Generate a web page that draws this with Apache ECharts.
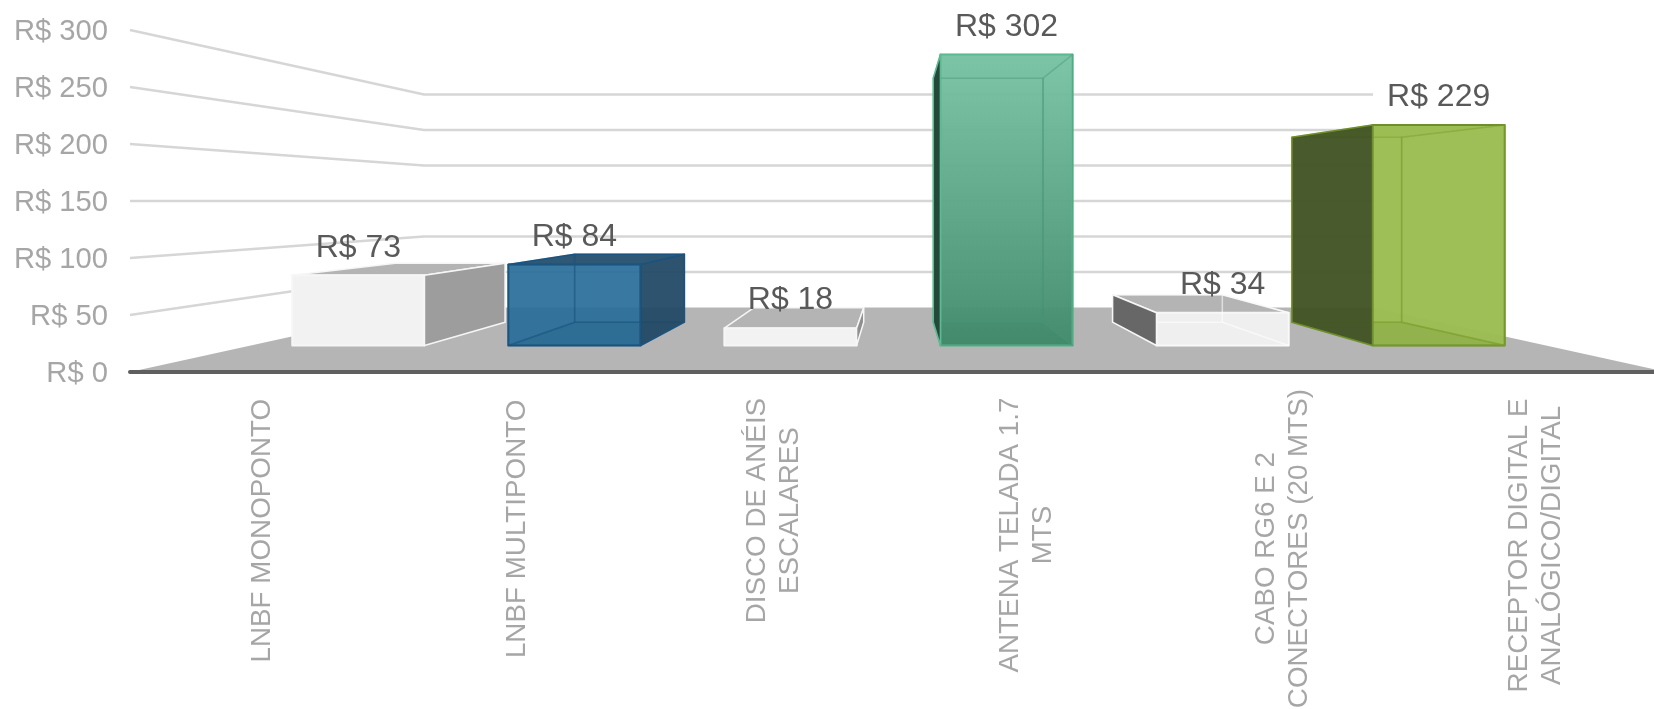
<!DOCTYPE html>
<html>
<head>
<meta charset="utf-8">
<style>html,body{margin:0;padding:0;background:#fff}#c{width:1654px;height:709px}</style>
<script src="https://cdn.jsdelivr.net/npm/echarts@6/dist/echarts.min.js"></script>
</head>
<body>
<div id="c"></div>
<script>
var categories = ['LNBF MONOPONTO','LNBF MULTIPONTO','DISCO DE ANÉIS\nESCALARES','ANTENA TELADA 1.7\nMTS','CABO RG6 E 2\nCONECTORES (20 MTS)','RECEPTOR DIGITAL E\nANALÓGICO/DIGITAL'];
var values = [73,84,18,302,34,229];
var wallTicks = [50,100,150,200,250,300];
var valueMin = 0, valueMax = 300, valueStep = 50;
var currency = 'R$ ';

// presentation
var FONT = '"Liberation Sans", Arial, sans-serif';
var horizonValue = 150;         // value that sits on the eye level of the perspective
var frontDepth = {x:0.8434, y:0.845}, backDepth = {x:0.700, y:0.7087}, wallDepth = {x:0.6175, y:0.623};
var barFill = 0.612;
var labelCentre = [148.7,146.9,128.6,153,166.6,163.4];  // label centre distance from the anchor
var labelShift = [4,3,3,0,0,-3];                        // sideways nudge of each category label
var labelLine = 33;
var barStyles = [
  {front:'#f2f2f2', side:'#9d9d9d', top:'#b4b4b4', line:'#f6f6f6', inner:'rgba(0,0,0,0)', floor:'rgba(0,0,0,0)'},
  {front:'rgba(40,108,152,0.92)', side:'rgba(32,72,102,0.94)', top:'rgba(34,78,108,0.94)', line:'#1c5480', inner:'rgba(28,84,128,0.4)', floor:'rgba(20,70,110,0.12)'},
  {front:'#f2f2f2', side:'#8f8f8f', top:'#b4b4b4', line:'#f6f6f6', inner:'rgba(0,0,0,0)', floor:'rgba(0,0,0,0)'},
  {front:{type:'linear',x:0,y:0,x2:0,y2:1,colorStops:[{offset:0,color:'rgba(122,196,165,0.97)'},{offset:1,color:'rgba(66,138,108,0.97)'}]}, side:'#25483a', top:'rgba(122,196,165,0.6)', line:'#5db992', inner:'rgba(70,150,115,0.4)', floor:'rgba(50,120,90,0.12)'},
  {front:'rgba(242,242,242,0.95)', side:'#676767', top:'#b4b4b4', line:'#f6f6f6', inner:'rgba(255,255,255,0.35)', floor:'rgba(0,0,0,0)'},
  {front:'rgba(155,188,82,0.97)', side:'rgba(66,84,36,0.96)', top:'rgba(158,193,84,0.7)', line:'#6f8f2c', inner:'rgba(125,160,45,0.5)', floor:'rgba(105,140,40,0.2)'}
];

function project(p, vp, d){ return [vp[0]+(p[0]-vp[0])*d.x, vp[1]+(p[1]-vp[1])*d.y]; }
function vanishing(params, api){
  var cs = params.coordSys;
  return [cs.x+cs.width/2, api.coord([0,horizonValue])[1]];
}
function poly(points, fill, stroke, width){
  return {type:'polygon', shape:{points:points}, style:{fill:fill||'none', stroke:stroke||'none', lineWidth:width||0, lineJoin:'round'}};
}

function renderFloor(params, api){
  var cs = params.coordSys, vp = vanishing(params, api);
  var y0 = api.coord([0,api.value(1)])[1];
  var a=[cs.x,y0], b=[cs.x+cs.width,y0];
  return poly([a,b,project(b,vp,wallDepth),project(a,vp,wallDepth)],'#b5b5b5');
}
function renderWall(params, api){
  var cs = params.coordSys, vp = vanishing(params, api);
  var y = api.coord([0,api.value(1)])[1];
  var a=[cs.x,y], b=[cs.x+cs.width,y];
  var pts=[a,project(a,vp,wallDepth),project(b,vp,wallDepth)];
  return {type:'polyline', shape:{points:pts}, style:{fill:'none', stroke:'#d6d6d6', lineWidth:2.5}};
}
function renderBar(params, api){
  var i = api.value(0), v = api.value(1), st = barStyles[i];
  var vp = vanishing(params, api);
  var band = api.size([1,0])[0];
  var cx = api.coord([i,0])[0], hw = band*barFill/2;
  var yTop = api.coord([i,v])[1], yBot = api.coord([i,valueMin])[1];
  function P(xx,yy,d){ return project([xx,yy],vp,d); }
  var l=cx-hw, r=cx+hw, f=frontDepth, k=backDepth;
  var fl=P(l,yBot,f), fr=P(r,yBot,f), ftl=P(l,yTop,f), ftr=P(r,yTop,f);
  var bl=P(l,yBot,k), br=P(r,yBot,k), btl=P(l,yTop,k), btr=P(r,yTop,k);
  var inner = st.inner;
  var rightVisible = ftr[0] < vp[0];
  var visible = rightVisible ? [fr,br,btr,ftr] : [fl,bl,btl,ftl];
  var hidden = rightVisible ? [fl,bl,btl,ftl] : [fr,br,btr,ftr];
  var top = ftl[1] > vp[1];
  var kids = [
    poly([ftl,ftr,btr,btl], st.top, top?st.line:inner, 1.5),
    poly([fl,fr,ftr,ftl], st.front, st.line, 2),
    poly([fl,fr,br,bl], st.floor, inner, 1.5),
    poly([bl,br,btr,btl], null, inner, 1.5),
    poly(hidden, null, inner, 1.5),
    poly(visible, st.side, st.line, 1.5),
    {type:'text', style:{x:(ftl[0]+ftr[0])/2, y:ftl[1]-27.5, text:currency+v, fill:'#595959', font:'32px '+FONT, align:'center', verticalAlign:'middle'}}
  ];
  return {type:'group', children:kids};
}

var chart = echarts.init(document.getElementById('c'), null, {renderer:'canvas'});
chart.setOption({
  animation:false,
  backgroundColor:'#ffffff',
  tooltip:{show:false},
  grid:{left:130, top:30, width:1537, height:342, containLabel:false, outerBoundsMode:'none'},
  xAxis:{
    type:'category',
    z:5,
    data:categories.map(function(c,i){
      var h = labelLine*c.split('\n').length;
      return {value:c, textStyle:{align:'center', verticalAlign:'top', padding:[labelShift[i]-h/2,2*labelCentre[i],0,0]}};
    }),
    axisTick:{show:false},
    axisLine:{show:true, lineStyle:{color:'#5f5f5f', width:4}},
    axisLabel:{interval:0, rotate:90, margin:10, align:'center', verticalAlign:'top', color:'#a6a6a6', fontSize:27.8, lineHeight:labelLine, fontFamily:FONT, hideOverlap:false},
    splitLine:{show:false}
  },
  yAxis:{
    type:'value', min:valueMin, max:valueMax, interval:valueStep,
    axisLine:{show:false}, axisTick:{show:false}, splitLine:{show:false},
    axisLabel:{margin:22, color:'#a6a6a6', fontSize:29.2, lineHeight:30, verticalAlign:'top', padding:[-13.5,0,0,0], fontFamily:FONT, formatter:function(v){return currency+v;}}
  },
  series:[
    {type:'custom', name:'floor', silent:true, clip:false, z:1, coordinateSystem:'cartesian2d', renderItem:renderFloor, encode:{x:0,y:1}, data:[[0,valueMin]]},
    {type:'custom', name:'wall', silent:true, clip:false, z:2, coordinateSystem:'cartesian2d', renderItem:renderWall, encode:{x:0,y:1}, data:wallTicks.map(function(t,i){return [i%categories.length,t];})},
    {type:'custom', name:'Preço', silent:true, clip:false, z:3, coordinateSystem:'cartesian2d', renderItem:renderBar, encode:{x:0,y:1}, data:values.map(function(v,i){return [i,v];})}
  ]
});
</script>
</body>
</html>
